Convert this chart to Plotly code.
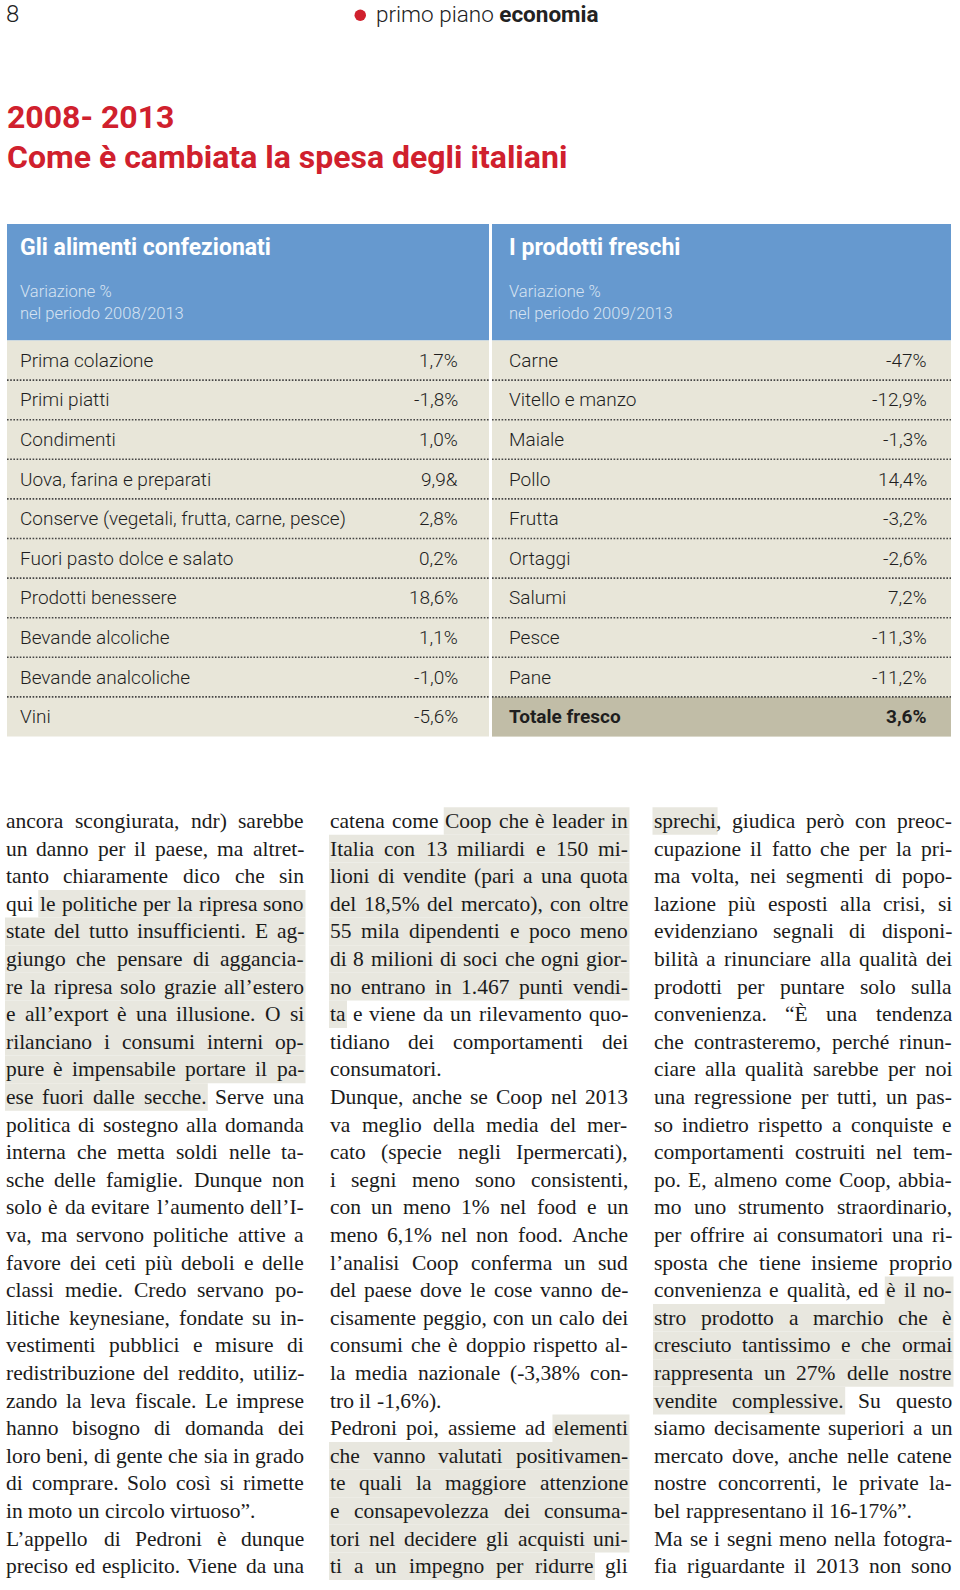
import plotly.graph_objects as go

# ------------------------------------------------------------------ data
page_number = "8"
section_light = "primo piano"
section_bold = "economia"
title_line1 = "2008- 2013"
title_line2 = "Come è cambiata la spesa degli italiani"

left_title = "Gli alimenti confezionati"
left_subtitle = ["Variazione %", "nel periodo 2008/2013"]
left_categories = ["Prima colazione", "Primi piatti", "Condimenti",
                   "Uova, farina e preparati",
                   "Conserve (vegetali, frutta, carne, pesce)",
                   "Fuori pasto dolce e salato", "Prodotti benessere",
                   "Bevande alcoliche", "Bevande analcoliche", "Vini"]
left_values = ["1,7%", "-1,8%", "1,0%", "9,9&", "2,8%", "0,2%", "18,6%",
               "1,1%", "-1,0%", "-5,6%"]

right_title = "I prodotti freschi"
right_subtitle = ["Variazione %", "nel periodo 2009/2013"]
right_categories = ["Carne", "Vitello e manzo", "Maiale", "Pollo", "Frutta",
                    "Ortaggi", "Salumi", "Pesce", "Pane", "Totale fresco"]
right_values = ["-47%", "-12,9%", "-1,3%", "14,4%", "-3,2%", "-2,6%",
                "7,2%", "-11,3%", "-11,2%", "3,6%"]

col1_lines = [
    "ancora scongiurata, ndr) sarebbe",
    "un danno per il paese, ma altret-",
    "tanto chiaramente dico che sin",
    "qui le politiche per la ripresa sono",
    "state del tutto insufficienti. E ag-",
    "giungo che pensare di aggancia-",
    "re la ripresa solo grazie all’estero",
    "e all’export è una illusione. O si",
    "rilanciano i consumi interni op-",
    "pure è impensabile portare il pa-",
    "ese fuori dalle secche. Serve una",
    "politica di sostegno alla domanda",
    "interna che metta soldi nelle ta-",
    "sche delle famiglie. Dunque non",
    "solo è da evitare l’aumento dell’I-",
    "va, ma servono politiche attive a",
    "favore dei ceti più deboli e delle",
    "classi medie. Credo servano po-",
    "litiche keynesiane, fondate su in-",
    "vestimenti pubblici e misure di",
    "redistribuzione del reddito, utiliz-",
    "zando la leva fiscale. Le imprese",
    "hanno bisogno di domanda dei",
    "loro beni, di gente che sia in grado",
    "di comprare. Solo così si rimette",
    "in moto un circolo virtuoso”.",
    "L’appello di Pedroni è dunque",
    "preciso ed esplicito. Viene da una",
]
col2_lines = [
    "catena come Coop che è leader in",
    "Italia con 13 miliardi e 150 mi-",
    "lioni di vendite (pari a una quota",
    "del 18,5% del mercato), con oltre",
    "55 mila dipendenti e poco meno",
    "di 8 milioni di soci che ogni gior-",
    "no entrano in 1.467 punti vendi-",
    "ta e viene da un rilevamento quo-",
    "tidiano dei comportamenti dei",
    "consumatori.",
    "Dunque, anche se Coop nel 2013",
    "va meglio della media del mer-",
    "cato (specie negli Ipermercati),",
    "i segni meno sono consistenti,",
    "con un meno 1% nel food e un",
    "meno 6,1% nel non food. Anche",
    "l’analisi Coop conferma un sud",
    "del paese dove le cose vanno de-",
    "cisamente peggio, con un calo dei",
    "consumi che è doppio rispetto al-",
    "la media nazionale (-3,38% con-",
    "tro il -1,6%).",
    "Pedroni poi, assieme ad elementi",
    "che vanno valutati positivamen-",
    "te quali la maggiore attenzione",
    "e consapevolezza dei consuma-",
    "tori nel decidere gli acquisti uni-",
    "ti a un impegno per ridurre gli",
]
col3_lines = [
    "sprechi, giudica però con preoc-",
    "cupazione il fatto che per la pri-",
    "ma volta, nei segmenti di popo-",
    "lazione più esposti alla crisi, si",
    "evidenziano segnali di disponi-",
    "bilità a rinunciare alla qualità dei",
    "prodotti per puntare solo sulla",
    "convenienza. “È una tendenza",
    "che contrasteremo, perché rinun-",
    "ciare alla qualità sarebbe per noi",
    "una regressione per tutti, un pas-",
    "so indietro rispetto a conquiste e",
    "comportamenti costruiti nel tem-",
    "po. E, almeno come Coop, abbia-",
    "mo uno strumento straordinario,",
    "per offrire ai consumatori una ri-",
    "sposta che tiene insieme proprio",
    "convenienza e qualità, ed è il no-",
    "stro prodotto a marchio che è",
    "cresciuto tantissimo e che ormai",
    "rappresenta un 27% delle nostre",
    "vendite complessive. Su questo",
    "siamo decisamente superiori a un",
    "mercato dove, anche nelle catene",
    "nostre concorrenti, le private la-",
    "bel rappresentano il 16-17%”.",
    "Ma se i segni meno nella fotogra-",
    "fia riguardante il 2013 non sono",
]
columns_text = [col1_lines, col2_lines, col3_lines]
paragraph_end_lines = [[25], [9, 21], [25]]
# (column, first line, first word, last line, last word)
highlight_spans = [(0, 3, 1, 10, 3), (1, 0, 2, 7, 0), (1, 22, 4, 27, 5),
                   (2, 0, 0, 0, 0), (2, 17, 4, 21, 1)]

# ------------------------------------------------------------------ style
RED = "#d0202d"
BLUE = "#6699cf"
BEIGE = "#e8e6d9"
TOTAL = "#c1bda7"
HILITE = "#e8e7df"
SANS = "Roboto"
SERIF = "Liberation Serif"

fig = go.Figure()
fig.add_trace(go.Scatter(x=[0, 960], y=[0, 1590], mode="markers",
                         marker=dict(opacity=0), hoverinfo="skip"))
fig.update_layout(
    width=960, height=1590, margin=dict(l=0, r=0, t=0, b=0),
    paper_bgcolor="white", plot_bgcolor="white", showlegend=False,
    xaxis=dict(range=[0, 960], visible=False, fixedrange=True),
    yaxis=dict(range=[1590, 0], visible=False, fixedrange=True),
)

ann = []
shapes = []


def text(x, y, s, size, color="#1a1a1a", family=SANS, xanchor="left",
         weight="normal", yanchor="middle"):
    ann.append(dict(x=x, y=y, xref="x", yref="y", text=s, showarrow=False,
                    xanchor=xanchor, yanchor=yanchor, borderpad=0,
                    borderwidth=0,
                    font=dict(family=family, size=size, color=color,
                              weight=weight)))


# ---- page header
text(6, 0, page_number, 24, color="#222", weight=300, yanchor="top")
shapes.append(dict(type="circle", xref="x", yref="y", x0=354.5, x1=366,
                   y0=9.5, y1=21, fillcolor=RED, line=dict(width=0)))
text(376, 1, section_light + " <b>" + section_bold + "</b>", 22.5,
     color="#222", weight=300, yanchor="top")

# ---- title
text(7, 117, "<b>" + title_line1 + "</b>", 32, color=RED)
text(7, 157, "<b>" + title_line2 + "</b>", 32, color=RED)

# ---- tables
HEAD_TOP, ROWS_TOP, ROW_H = 224, 340.5, 39.6
panels = [
    dict(x0=7, x1=489, lx=20, vx=458, title=left_title, sub=left_subtitle,
         cats=left_categories, vals=left_values, total=False),
    dict(x0=492, x1=951, lx=509, vx=927, title=right_title,
         sub=right_subtitle, cats=right_categories, vals=right_values,
         total=True),
]
for p in panels:
    n = len(p["cats"])
    shapes.append(dict(type="rect", xref="x", yref="y", x0=p["x0"],
                       x1=p["x1"], y0=HEAD_TOP, y1=ROWS_TOP,
                       fillcolor=BLUE, line=dict(width=0), layer="below"))
    shapes.append(dict(type="rect", xref="x", yref="y", x0=p["x0"],
                       x1=p["x1"], y0=ROWS_TOP, y1=ROWS_TOP + n * ROW_H,
                       fillcolor=BEIGE, line=dict(width=0), layer="below"))
    if p["total"]:
        shapes.append(dict(type="rect", xref="x", yref="y", x0=p["x0"],
                           x1=p["x1"], y0=ROWS_TOP + (n - 1) * ROW_H,
                           y1=ROWS_TOP + n * ROW_H, fillcolor=TOTAL,
                           line=dict(width=0), layer="below"))
    hx = p["lx"]
    text(hx, 247, "<b>" + p["title"] + "</b>", 23, color="white")
    text(hx, 291, p["sub"][0], 16.5, color="#d6e3f2", weight=300)
    text(hx, 313, p["sub"][1], 16.5, color="#d6e3f2", weight=300)
    for i, (c, v) in enumerate(zip(p["cats"], p["vals"])):
        yc = ROWS_TOP + (i + 0.5) * ROW_H
        w = 300
        if p["total"] and i == n - 1:
            c, v = "<b>" + c + "</b>", "<b>" + v + "</b>"
            w = "normal"
        text(p["lx"], yc, c, 19, color="#1e1e1e", weight=w)
        text(p["vx"], yc, v, 19, color="#1e1e1e", xanchor="right", weight=w)
        if i > 0:
            yl = ROWS_TOP + i * ROW_H
            shapes.append(dict(type="line", xref="x", yref="y", x0=p["x0"],
                               x1=p["x1"], y0=yl, y1=yl,
                               line=dict(color="#444", width=1.6,
                                         dash="1.6px,1.6px")))

# ---- body text (justified with Times metrics)
TW = {' ': 250, 'a': 444, 'b': 500, 'c': 444, 'd': 500, 'e': 444, 'f': 333,
      'g': 500, 'h': 500, 'i': 278, 'j': 278, 'k': 500, 'l': 278, 'm': 778,
      'n': 500, 'o': 500, 'p': 500, 'q': 500, 'r': 333, 's': 389, 't': 278,
      'u': 500, 'v': 500, 'w': 722, 'x': 500, 'y': 500, 'z': 444,
      'A': 722, 'B': 667, 'C': 667, 'D': 722, 'E': 611, 'F': 556, 'G': 722,
      'H': 722, 'I': 333, 'J': 389, 'K': 722, 'L': 611, 'M': 889, 'N': 722,
      'O': 722, 'P': 556, 'Q': 722, 'R': 667, 'S': 556, 'T': 611, 'U': 722,
      'V': 722, 'W': 944, 'X': 722, 'Y': 722, 'Z': 611, ',': 250, '.': 250,
      '-': 333, '(': 333, ')': 333, '%': 833, '’': 333, '“': 444, '”': 444,
      ':': 278, ';': 278, 'è': 444, 'é': 444, 'à': 444, 'ò': 500, 'ù': 500,
      'ì': 278, 'È': 611}
BODY_FS = 21.5
COL_X = [6, 330, 654]
COL_W = 298
LINE0, LINE_H = 821, 27.6


def tw(s):
    return sum(TW.get(ch, 500) for ch in s) / 1000 * BODY_FS


word_pos = []  # per column, per line: list of (x, width)
for ci, lines in enumerate(columns_text):
    col_pos = []
    for li, line in enumerate(lines):
        words = line.split(" ")
        widths = [tw(w) for w in words]
        if li in paragraph_end_lines[ci] or len(words) < 2:
            gap = tw(" ")
        else:
            gap = max((COL_W - sum(widths)) / (len(words) - 1), 2.0)
        x = COL_X[ci]
        pos = []
        for w, wd in zip(words, widths):
            pos.append((x, wd))
            text(x, LINE0 + li * LINE_H, w, BODY_FS, color="#1b1b1b",
                 family=SERIF)
            x += wd + gap
        col_pos.append(pos)
    word_pos.append(col_pos)

for ci, l0, w0, l1, w1 in highlight_spans:
    for li in range(l0, l1 + 1):
        pos = word_pos[ci][li]
        xs = pos[w0][0] - 1.5 if li == l0 else COL_X[ci] - 1
        if li == l1:
            word = columns_text[ci][li].split(" ")[w1]
            xe = pos[w1][0] + tw(word.rstrip(",")) + 1.5
        else:
            xe = COL_X[ci] + COL_W + 1.5
        yc = LINE0 + li * LINE_H
        shapes.append(dict(type="rect", xref="x", yref="y", x0=xs, x1=xe,
                           y0=yc - LINE_H / 2, y1=yc + LINE_H / 2,
                           fillcolor=HILITE, line=dict(width=0),
                           layer="below"))

fig.update_layout(annotations=ann, shapes=shapes)
# remove the browser's default 8px body margin so the page starts at (0, 0)
fig.write_html("out.html", config={"displayModeBar": False},
               post_script="document.body.style.margin='0';")
